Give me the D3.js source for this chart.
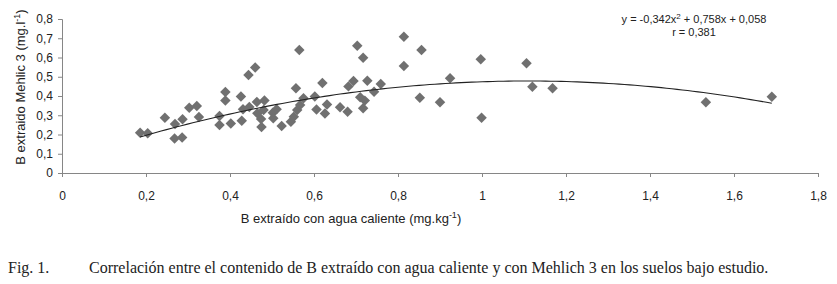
<!DOCTYPE html>
<html>
<head>
<meta charset="utf-8">
<script src="https://cdn.jsdelivr.net/npm/d3@7"></script>
<style>
  body { margin: 0; background: #fff; }
  svg { display: block; }
</style>
</head>
<body>
<div id="chart"></div>
<script>
// B extracted with hot water (mg/kg)
const aguaCaliente = [
  0.186, 0.204, 0.245, 0.269, 0.287, 0.268, 0.286, 0.303, 0.321, 0.326,
  0.375, 0.375, 0.389, 0.389, 0.402, 0.426, 0.428, 0.431, 0.444, 0.460,
  0.446, 0.464, 0.465, 0.474, 0.475, 0.480, 0.482, 0.502, 0.511, 0.503,
  0.523, 0.545, 0.552, 0.560, 0.567, 0.575, 0.557, 0.565, 0.602, 0.606,
  0.626, 0.631, 0.620, 0.662, 0.680, 0.682, 0.694, 0.703, 0.717, 0.710,
  0.721, 0.717, 0.727, 0.743, 0.759, 0.814, 0.814, 0.856, 0.852, 0.900,
  0.924, 0.997, 0.999, 1.106, 1.120, 1.168, 1.533, 1.690
];
// B extracted with Mehlich 3 (mg/l)
const mehlich3 = [
  0.209, 0.206, 0.287, 0.255, 0.279, 0.179, 0.185, 0.339, 0.348, 0.291,
  0.296, 0.249, 0.421, 0.377, 0.257, 0.397, 0.272, 0.331, 0.509, 0.548,
  0.343, 0.369, 0.310, 0.281, 0.239, 0.327, 0.377, 0.313, 0.331, 0.284,
  0.244, 0.266, 0.292, 0.327, 0.353, 0.388, 0.440, 0.639, 0.397, 0.330,
  0.309, 0.356, 0.468, 0.341, 0.318, 0.450, 0.478, 0.661, 0.599, 0.393,
  0.376, 0.336, 0.479, 0.422, 0.462, 0.708, 0.556, 0.639, 0.391, 0.367,
  0.492, 0.591, 0.287, 0.570, 0.448, 0.440, 0.367, 0.396
];
// polynomial trend line coefficients (a x^2 + b x + c), as printed on the chart
const trendCoef = [-0.342, 0.758, 0.058];
const xTicks = [0, 0.2, 0.4, 0.6, 0.8, 1, 1.2, 1.4, 1.6, 1.8];
const yTicks = [0, 0.1, 0.2, 0.3, 0.4, 0.5, 0.6, 0.7, 0.8];

const width = 837, height = 284;
const svg = d3.select("#chart").append("svg")
  .attr("width", width).attr("height", height);

const x = d3.scaleLinear().domain([0, 1.8]).range([62, 818]);
const y = d3.scaleLinear().domain([0, 0.8]).range([173, 19]);
const fmt = d => String(+d.toFixed(1)).replace(".", ",");

const axisColor = "#868686";
const tickFont = "Liberation Sans, Arial, sans-serif";

// x axis
const gx = svg.append("g").attr("transform", `translate(0,${y(0)})`)
  .call(d3.axisBottom(x).tickValues(xTicks).tickFormat(fmt).tickSize(4).tickPadding(14));
// y axis
const gy = svg.append("g").attr("transform", `translate(${x(0)},0)`)
  .call(d3.axisLeft(y).tickValues(yTicks).tickFormat(fmt).tickSize(4).tickPadding(5));

[gx, gy].forEach(g => {
  g.select(".domain").attr("stroke", axisColor);
  g.selectAll(".tick line").attr("stroke", axisColor);
  g.selectAll(".tick text").attr("fill", "#222")
    .style("font-family", tickFont).style("font-size", "12px");
});

// points
const data = aguaCaliente.map((v, i) => ({ x: v, y: mehlich3[i] }));
const diamond = d3.symbol().type(d3.symbolDiamond2).size(70);
svg.append("g").selectAll("path")
  .data(data)
  .join("path")
  .attr("d", diamond)
  .attr("transform", d => `translate(${x(d.x)},${y(d.y)})`)
  .attr("fill", "#707070");

// trend line across the data range
const [a, b, c] = trendCoef;
const xr = d3.extent(aguaCaliente);
const trend = d3.range(xr[0], xr[1] + 1e-9, (xr[1] - xr[0]) / 120)
  .map(v => ({ x: v, y: a * v * v + b * v + c }));
svg.append("path")
  .datum(trend)
  .attr("d", d3.line().x(d => x(d.x)).y(d => y(d.y)))
  .attr("fill", "none")
  .attr("stroke", "#222")
  .attr("stroke-width", 1.1);

// equation
const eq = svg.append("text")
  .attr("x", 694).attr("y", 23)
  .attr("text-anchor", "middle")
  .style("font-family", tickFont).style("font-size", "11px").attr("fill", "#222");
eq.append("tspan").text("y = -0,342x");
eq.append("tspan").attr("dy", -4).style("font-size", "8px").text("2");
eq.append("tspan").attr("dy", 4).text(" + 0,758x + 0,058");
svg.append("text")
  .attr("x", 694).attr("y", 36)
  .attr("text-anchor", "middle")
  .style("font-family", tickFont).style("font-size", "11px").attr("fill", "#222")
  .text("r = 0,381");

// axis titles
const yt = svg.append("text")
  .attr("transform", "translate(25,87) rotate(-90)")
  .attr("text-anchor", "middle")
  .style("font-family", tickFont).style("font-size", "13px").attr("fill", "#222");
yt.append("tspan").text("B extraido Mehlic 3 (mg.l");
yt.append("tspan").attr("dy", -5).style("font-size", "9px").text("-1");
yt.append("tspan").attr("dy", 5).text(")");

const xt = svg.append("text")
  .attr("x", 351).attr("y", 223)
  .attr("text-anchor", "middle")
  .style("font-family", tickFont).style("font-size", "13px").attr("fill", "#222");
xt.append("tspan").text("B extraído con agua caliente (mg.kg");
xt.append("tspan").attr("dy", -5).style("font-size", "9px").text("-1");
xt.append("tspan").attr("dy", 5).text(")");

// caption
const serif = "Liberation Serif, Times New Roman, serif";
svg.append("text").attr("x", 8).attr("y", 273)
  .style("font-family", serif).style("font-size", "16px").attr("fill", "#222")
  .text("Fig. 1.");
svg.append("text").attr("x", 89).attr("y", 273)
  .style("font-family", serif).style("font-size", "16px").attr("fill", "#222")
  .text("Correlación entre el contenido de B extraído con agua caliente y con Mehlich 3 en los suelos bajo estudio.");
</script>
</body>
</html>
